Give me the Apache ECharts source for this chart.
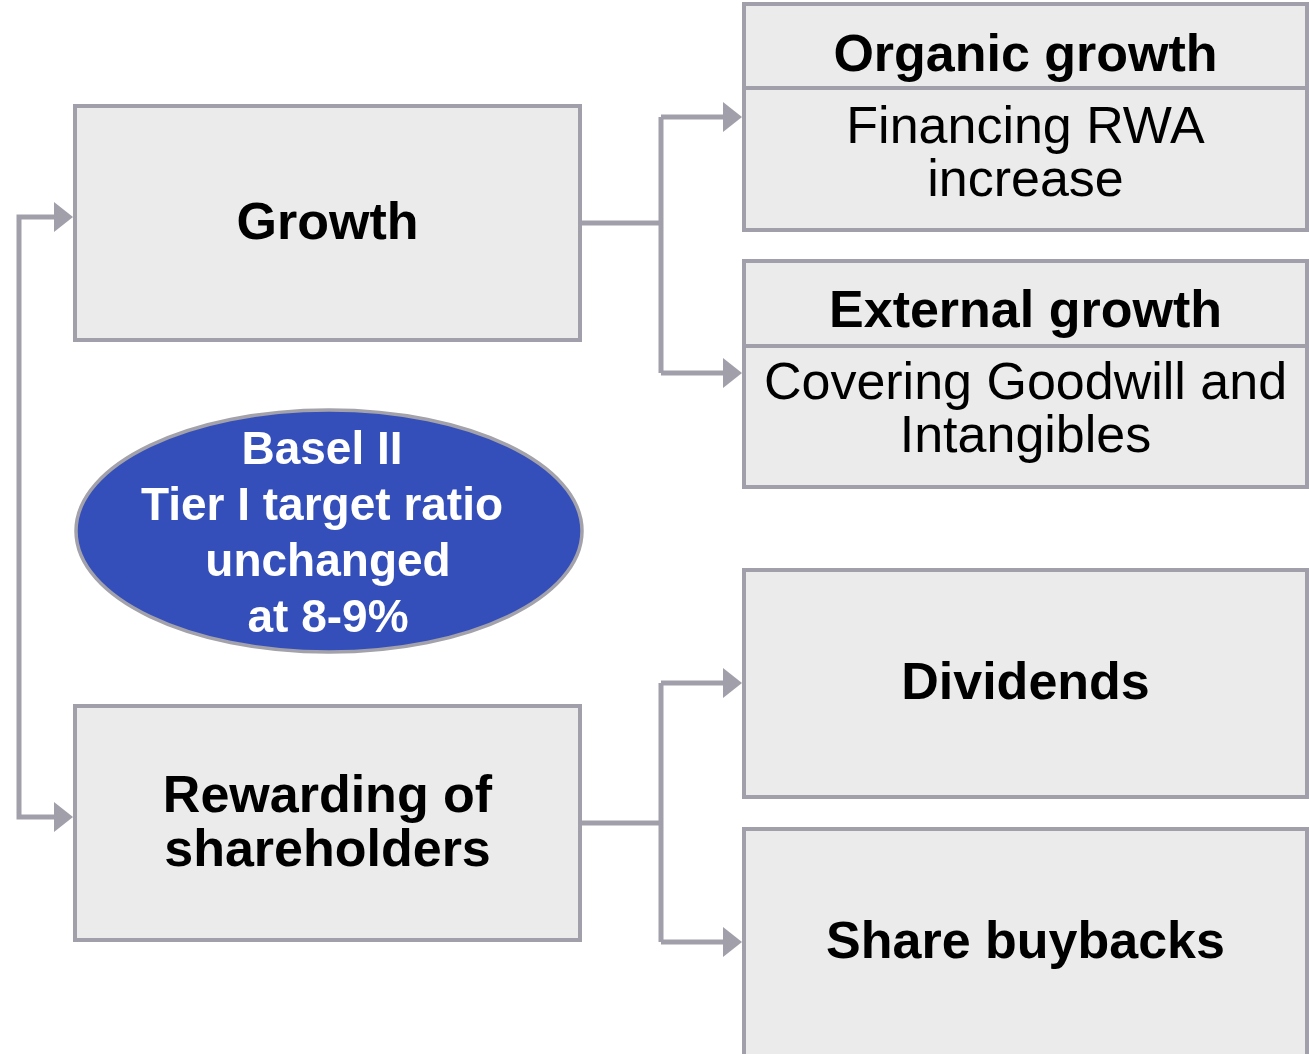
<!DOCTYPE html>
<html>
<head>
<meta charset="utf-8">
<script src="https://cdn.jsdelivr.net/npm/echarts@6/dist/echarts.min.js"></script>
<style>
  html, body { margin: 0; padding: 0; background: #fff; }
  #chart { width: 1309px; height: 1054px; }
</style>
</head>
<body>
<div id="chart"></div>
<script>
// Diagram drawn on a hidden value grid: 1 unit = 1 px of the reference
const W = 1309
const H = 1054

// Plain boxes (label, extent in grid units)
const boxLabels = ['Growth', 'Rewarding of\nshareholders', 'Dividends', 'Share buybacks']
const boxX0 = [75, 75, 744, 744]
const boxY0 = [106, 706, 570, 829]
const boxX1 = [580, 580, 1307, 1307]
const boxY1 = [340, 940, 797, 1062]
const boxTextY = [225, 825, 685, 944]

// Boxes with a header row
const splitHeads  = ['Organic growth', 'External growth']
const splitBodies = ['Financing RWA\nincrease', 'Covering Goodwill and\nIntangibles']
const splitY0   = [4, 261]
const splitYMid = [88, 346]
const splitY1   = [230, 487]
const splitHeadTextY = [57, 313]
const splitBodyTextY = [155, 411]

// Central ellipse
const ellipseLines  = ['Basel II', 'Tier I target ratio', 'unchanged', 'at 8-9%']
const ellipseLineX  = [322, 322, 328, 328]
const ellipseLineY  = [451, 507, 563, 619]
const ellipseCenter = [329, 531]
const ellipseRadius = [253, 121]

// Connector paths and arrow tips (all pointing right)
const linkPaths = [
  [[580, 223], [661, 223]],
  [[661, 117], [661, 373]],
  [[661, 117], [725, 117]],
  [[661, 373], [725, 373]],
  [[580, 823], [661, 823]],
  [[661, 683], [661, 942]],
  [[661, 683], [725, 683]],
  [[661, 942], [725, 942]],
  [[55, 217], [19, 217], [19, 817], [55, 817]],
]
const arrowTips = [[742, 117], [742, 373], [742, 683], [742, 942], [73, 217], [73, 817]]

const FONT = "'Liberation Sans', Arial, sans-serif"
const GREY = '#a19fa9'
const FILL = '#ebebeb'

function pt(api, p) { return api.coord(p) }

const option = {
  animation: false,
  grid: { left: 0, right: 0, top: 0, bottom: 0 },
  xAxis: { type: 'value', min: 0, max: W, show: false },
  yAxis: { type: 'value', min: 0, max: H, inverse: true, show: false },
  series: [
    // connectors
    {
      type: 'custom',
      clip: false,
      data: linkPaths.map((p, i) => [i]),
      renderItem: (params, api) => {
        const path = linkPaths[api.value(0)]
        return {
          type: 'polyline',
          shape: { points: path.map(p => pt(api, p)) },
          style: { stroke: GREY, lineWidth: 5, fill: null, lineJoin: 'miter', lineCap: 'butt' },
        }
      },
    },
    // arrow heads
    {
      type: 'custom',
      clip: false,
      data: arrowTips,
      renderItem: (params, api) => {
        const tip = pt(api, [api.value(0), api.value(1)])
        return {
          type: 'polygon',
          shape: { points: [tip, [tip[0] - 19, tip[1] - 15], [tip[0] - 19, tip[1] + 15]] },
          style: { fill: GREY },
        }
      },
    },
    // plain boxes
    {
      type: 'custom',
      clip: false,
      data: boxLabels.map((l, i) => [boxX0[i], boxY0[i], boxX1[i], boxY1[i], i]),
      renderItem: (params, api) => {
        const a = pt(api, [api.value(0), api.value(1)])
        const b = pt(api, [api.value(2), api.value(3)])
        const i = api.value(4)
        return {
          type: 'group',
          children: [
            { type: 'rect', shape: { x: a[0], y: a[1], width: b[0] - a[0], height: b[1] - a[1] },
              style: { fill: FILL, stroke: GREY, lineWidth: 4 } },
            { type: 'text',
              style: { x: (a[0] + b[0]) / 2, y: pt(api, [0, boxTextY[i]])[1], text: boxLabels[i], fill: '#000',
                font: `bold 52px ${FONT}`, align: 'center', verticalAlign: 'middle', lineHeight: 54 } },
          ],
        }
      },
    },
    // header boxes
    {
      type: 'custom',
      clip: false,
      data: splitHeads.map((h, i) => [744, splitY0[i], 1307, splitY1[i], i]),
      renderItem: (params, api) => {
        const a = pt(api, [api.value(0), api.value(1)])
        const b = pt(api, [api.value(2), api.value(3)])
        const i = api.value(4)
        const mid = pt(api, [0, splitYMid[i]])[1]
        const cx = (a[0] + b[0]) / 2
        return {
          type: 'group',
          children: [
            { type: 'rect', shape: { x: a[0], y: a[1], width: b[0] - a[0], height: b[1] - a[1] },
              style: { fill: FILL, stroke: GREY, lineWidth: 4 } },
            { type: 'line', shape: { x1: a[0], y1: mid, x2: b[0], y2: mid },
              style: { stroke: GREY, lineWidth: 4 } },
            { type: 'text',
              style: { x: cx, y: pt(api, [0, splitHeadTextY[i]])[1], text: splitHeads[i], fill: '#000',
                font: `bold 52px ${FONT}`, align: 'center', verticalAlign: 'middle' } },
            { type: 'text',
              style: { x: cx, y: pt(api, [0, splitBodyTextY[i]])[1], text: splitBodies[i], fill: '#000',
                font: `52px ${FONT}`, align: 'center', verticalAlign: 'middle', lineHeight: 53 } },
          ],
        }
      },
    },
    // ellipse
    {
      type: 'custom',
      clip: false,
      data: [[ellipseCenter[0], ellipseCenter[1], ellipseRadius[0], ellipseRadius[1]]],
      renderItem: (params, api) => {
        const c = pt(api, [api.value(0), api.value(1)])
        const e = pt(api, [api.value(0) + api.value(2), api.value(1) + api.value(3)])
        const lines = ellipseLines.map((s, k) => {
          const p = pt(api, [ellipseLineX[k], ellipseLineY[k]])
          return { type: 'text',
            style: { x: p[0], y: p[1], text: s, fill: '#fff',
              font: `bold 46px ${FONT}`, align: 'center', verticalAlign: 'middle' } }
        })
        return {
          type: 'group',
          children: [
            { type: 'ellipse', shape: { cx: c[0], cy: c[1], rx: e[0] - c[0], ry: e[1] - c[1] },
              style: { fill: '#354fba', stroke: '#a3a1aa', lineWidth: 3.5 } },
            ...lines,
          ],
        }
      },
    },
  ],
}

const chart = echarts.init(document.getElementById('chart'))
chart.setOption(option)
</script>
</body>
</html>
